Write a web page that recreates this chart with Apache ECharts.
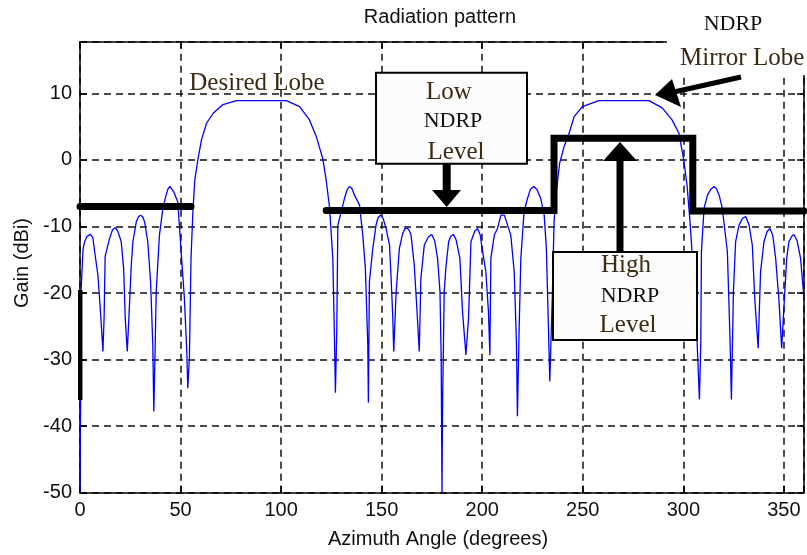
<!DOCTYPE html>
<html>
<head>
<meta charset="utf-8">
<script src="https://cdn.jsdelivr.net/npm/echarts@6/dist/echarts.min.js"></script>
<style>
  html, body { margin: 0; padding: 0; background: #ffffff; }
  #chart { width: 807px; height: 555px; }
</style>
</head>
<body>
<div id="chart"></div>
<script>
// Array radiation pattern: gain versus azimuth angle (one lobe per row)
const azimuthDeg = [
  0, 0.3, 0.5, 1.5, 2.3, 3.5, 5.3, 6.4, 7.3, 8.9, 10.3, 11.4,
  12.0, 12.5, 14.7, 16.2, 17.5, 18.8, 20.5, 21.7, 22.5, 23.5,
  24.3, 25.5, 26.3, 28.0, 29.0, 30.1, 31.2, 32.1, 33.7, 35.1, 36.2, 36.7,
  37.4, 37.9, 39.5, 41.2, 42.8, 43.7, 44.7, 46.6, 48.6, 50.3, 51.9, 53.1, 53.6,
  54.4, 55.2, 56.2, 57.1, 58.7, 60.4, 62.9, 66.2, 71.1, 77.8, 90, 102.6, 109.2, 114.1, 117.5, 120.7, 122.4, 124.1, 125.7, 126.5, 127.0,
  127.7, 128.2, 129.9, 131.5, 132.8, 134.0, 135.2, 136.5, 139.0, 140.6, 141.9, 143.1, 143.4,
  143.9, 145.6, 147.2, 148.2, 149.4, 150.7, 152.2, 153.9, 154.7, 155.5, 156.0,
  157.2, 158.8, 160.5, 161.5, 162.6, 163.7, 164.6, 166.2, 167.4, 168.7,
  169.5, 171.2, 173.2, 174.9, 176.4, 177.8, 179.0, 179.6, 180.0,
  180.3, 181.1, 181.9, 183.3, 184.3, 185.6, 187.0, 188.9, 190.2, 191.9,
  193.2, 194.4, 196.3, 197.7, 199.0, 200.2, 201.8, 203.1, 203.8,
  204.3, 206.0, 207.6, 209.3, 211.0, 214.2, 215.9, 217.0, 217.5,
  218.4, 219.2, 220.8, 222.5, 224.0, 225.6, 227.3, 229.1, 230.8, 231.9, 232.9, 233.6,
  234.9, 235.7, 236.6, 238.5, 240.7, 243.2, 245.7, 249.8, 258.0, 270, 282.9, 289.5, 294.4, 297.8, 300.2, 301.9, 303.5, 305.2, 306.8, 308.0,
  308.7, 309.0, 310.3, 312.0, 313.7, 315.3, 316.6, 317.8, 319.4, 321.9, 323.2, 323.9,
  324.9, 326.0, 327.7, 329.4, 331.0, 332.7, 334.3, 335.5, 337.2,
  338.4, 340.1, 341.6, 343.1, 344.5, 345.9, 347.6, 348.9,
  350.0, 351.4, 352.5, 353.8, 355.0, 356.6, 358.3, 360.0
];
const gainDbi = [
  -50, -36, -19.8, -13.5, -12.3, -11.5, -11.2, -11.7, -13.8, -17.3, -23.3, -28.8,
  -23.5, -14.5, -11.8, -10.5, -10.2, -10.7, -12.3, -16.3, -23.8, -28.8,
  -23.8, -15.8, -12.3, -9.3, -8.6, -8.3, -8.6, -9.3, -12.3, -18.3, -27.8, -37.8,
  -27.8, -19.8, -11.3, -7.3, -5.3, -4.4, -4.0, -4.8, -6.3, -13.8, -20.8, -28.8, -34.3,
  -29.8, -14.8, -7.3, -3.0, 0.2, 3.0, 5.5, 7.0, 8.3, 8.9, 8.9, 8.9, 8.0, 6.0, 3.5, 0.2, -3.0, -7.2, -14.8, -26.3, -35.0,
  -25.3, -9.8, -7.8, -5.8, -4.5, -4.0, -4.3, -5.3, -6.8, -11.3, -16.3, -27.8, -36.5,
  -18.3, -13.3, -9.8, -8.7, -8.3, -8.8, -10.3, -12.8, -17.8, -23.5, -28.8,
  -19.8, -13.3, -11.0, -10.4, -10.2, -10.6, -11.3, -15.8, -21.8, -28.8,
  -17.8, -12.8, -11.6, -11.2, -12.2, -14.8, -19.8, -30, -50,
  -36.3, -19.8, -16.3, -12.3, -11.5, -11.2, -12.0, -14.8, -22.8, -29.3,
  -23.8, -12.3, -10.7, -10.3, -11.3, -13.8, -16.8, -22.8, -29.3,
  -14.8, -11.3, -10.3, -8.3, -8.3, -11.3, -16.8, -27.3, -38.5,
  -24.8, -14.8, -7.8, -5.8, -4.4, -4.0, -4.5, -5.8, -8.3, -13.3, -24.8, -33.3,
  -20.0, -9.5, -5.5, -0.5, 2.0, 4.0, 6.5, 8.0, 8.9, 8.9, 8.9, 7.8, 6.0, 4.0, 0.0, -4.0, -10.0, -18.0, -27.0, -36.0,
  -27.3, -13.8, -7.3, -5.3, -4.4, -4.0, -4.4, -5.3, -7.3, -13.8, -26.8, -36.0,
  -19.8, -12.3, -9.8, -8.8, -8.5, -9.8, -12.8, -20.8, -28.3,
  -16.8, -12.3, -10.8, -10.3, -11.4, -14.8, -21.3, -28.3,
  -22.3, -14.8, -12.3, -11.5, -11.2, -12.2, -14.8, -20.8
];

// NDRP level profile (two separate pieces)
const ndrpLeftAngle = [0, 55.2];
const ndrpLeftLevel = [-7.0, -7.0];
const ndrpRightAngle = [122.4, 235.7, 235.7, 304.7, 304.7, 360];
const ndrpRightLevel = [-7.6, -7.6, 3.25, 3.25, -7.7, -7.7];

// Axis ticks
const xTickValues = [0, 50, 100, 150, 200, 250, 300, 350];
const yTickValues = [-50, -40, -30, -20, -10, 0, 10];

const pairs = (xs, ys) => xs.map((x, i) => [x, ys[i]]);

const SANS = "'Liberation Sans', Arial, sans-serif";
const SERIF = "'Liberation Serif', 'Times New Roman', serif";
const LABEL_BROWN = '#3d2a12';

const gridLine = { show: true, lineStyle: { color: '#111', width: 1.5, type: [7, 5] } };
const spine = { show: true, onZero: false, lineStyle: { color: '#000', width: 1.5 } };
const ticks = { show: true, inside: true, length: 7, lineStyle: { color: '#000', width: 1.5 } };

const chart = echarts.init(document.getElementById('chart'), null, { renderer: 'canvas' });

chart.setOption({
  animation: false,
  backgroundColor: '#ffffff',
  grid: { left: 80, right: 1.6, top: 41.7, bottom: 62.3, containLabel: false },
  xAxis: [
    {
      type: 'value', min: 0, max: 360, interval: 50, position: 'bottom',
      axisLine: spine, axisTick: ticks, splitLine: gridLine,
      axisLabel: {
        margin: 8, color: '#111', fontFamily: SANS, fontSize: 20,
        formatter: v => (xTickValues.includes(v) ? String(v) : '')
      }
    },
    {
      type: 'value', min: 0, max: 360, interval: 50, position: 'top',
      axisLine: spine, axisTick: ticks, splitLine: { show: false },
      axisLabel: { show: false }
    }
  ],
  yAxis: [
    {
      type: 'value', min: -50, max: 17.75, interval: 10, position: 'left',
      axisLine: spine, axisTick: ticks, splitLine: gridLine,
      axisLabel: {
        margin: 8, color: '#111', fontFamily: SANS, fontSize: 20,
        formatter: v => (yTickValues.includes(v) ? String(v) : '')
      }
    },
    {
      type: 'value', min: -50, max: 17.75, interval: 10, position: 'right',
      axisLine: spine, axisTick: ticks, splitLine: { show: false },
      axisLabel: { show: false }
    }
  ],
  series: [
    {
      name: 'Gain', type: 'line', data: pairs(azimuthDeg, gainDbi),
      symbol: 'none', z: 3,
      lineStyle: { color: '#0000ff', width: 1.3 }
    },
    {
      name: 'NDRP left', type: 'line', data: pairs(ndrpLeftAngle, ndrpLeftLevel),
      symbol: 'none', clip: false, z: 4,
      lineStyle: { color: '#000', width: 7, cap: 'round', join: 'miter' }
    },
    {
      name: 'NDRP right', type: 'line', data: pairs(ndrpRightAngle, ndrpRightLevel),
      symbol: 'none', clip: false, z: 4,
      lineStyle: { color: '#000', width: 7, cap: 'round', join: 'miter' }
    }
  ],
  graphic: {
    elements: [
      // blank corner above the right end of the frame
      { type: 'rect', z: 100, shape: { x: 667, y: 0, width: 140, height: 75 }, style: { fill: '#ffffff' } },
      // heavy mark on the left spine
      { type: 'rect', z: 100, shape: { x: 78, y: 290, width: 4.5, height: 110 }, style: { fill: '#000' } },

      // titles
      { type: 'text', z: 110, x: 440, y: 17,
        style: { text: 'Radiation pattern', font: '20px ' + SANS, fill: '#111', align: 'center', verticalAlign: 'middle' } },
      { type: 'text', z: 110, x: 438, y: 539,
        style: { text: 'Azimuth Angle (degrees)', font: '20px ' + SANS, fill: '#111', align: 'center', verticalAlign: 'middle' } },
      { type: 'text', z: 110, x: 22, y: 263, rotation: Math.PI / 2,
        style: { text: 'Gain (dBi)', font: '20px ' + SANS, fill: '#111', align: 'center', verticalAlign: 'middle' } },

      // main lobe label
      { type: 'text', z: 110, x: 257, y: 83,
        style: { text: 'Desired Lobe', font: '25px ' + SERIF, fill: LABEL_BROWN, align: 'center', verticalAlign: 'middle' } },

      // low level callout
      { type: 'rect', z: 105, shape: { x: 376, y: 72.7, width: 151, height: 91 },
        style: { fill: '#fcfcfc', stroke: '#000', lineWidth: 2 } },
      { type: 'text', z: 110, x: 449, y: 92,
        style: { text: 'Low', font: '25px ' + SERIF, fill: LABEL_BROWN, align: 'center', verticalAlign: 'middle' } },
      { type: 'text', z: 110, x: 453, y: 121,
        style: { text: 'NDRP', font: '22px ' + SERIF, fill: '#111', align: 'center', verticalAlign: 'middle' } },
      { type: 'text', z: 110, x: 456, y: 152,
        style: { text: 'Level', font: '25px ' + SERIF, fill: LABEL_BROWN, align: 'center', verticalAlign: 'middle' } },
      { type: 'rect', z: 106, shape: { x: 442.7, y: 163, width: 8, height: 29 }, style: { fill: '#000' } },
      { type: 'polygon', z: 106, shape: { points: [[432, 190], [461, 190], [446.7, 207]] }, style: { fill: '#000' } },

      // high level callout
      { type: 'rect', z: 105, shape: { x: 553, y: 252, width: 144, height: 88 },
        style: { fill: '#fcfcfc', stroke: '#000', lineWidth: 2 } },
      { type: 'text', z: 110, x: 626, y: 265,
        style: { text: 'High', font: '25px ' + SERIF, fill: LABEL_BROWN, align: 'center', verticalAlign: 'middle' } },
      { type: 'text', z: 110, x: 630, y: 296,
        style: { text: 'NDRP', font: '22px ' + SERIF, fill: '#111', align: 'center', verticalAlign: 'middle' } },
      { type: 'text', z: 110, x: 628, y: 325,
        style: { text: 'Level', font: '25px ' + SERIF, fill: LABEL_BROWN, align: 'center', verticalAlign: 'middle' } },
      { type: 'rect', z: 106, shape: { x: 616.5, y: 160, width: 7, height: 92 }, style: { fill: '#000' } },
      { type: 'polygon', z: 106, shape: { points: [[603, 161], [637, 161], [620, 142]] }, style: { fill: '#000' } },

      // mirror lobe callout
      { type: 'text', z: 110, x: 733, y: 24,
        style: { text: 'NDRP', font: '22px ' + SERIF, fill: '#111', align: 'center', verticalAlign: 'middle' } },
      { type: 'text', z: 110, x: 680, y: 58,
        style: { text: 'Mirror Lobe', font: '25px ' + SERIF, fill: LABEL_BROWN, align: 'left', verticalAlign: 'middle' } },
      { type: 'line', z: 106, shape: { x1: 741, y1: 77, x2: 674, y2: 92 }, style: { stroke: '#000', lineWidth: 5 } },
      { type: 'polygon', z: 106, shape: { points: [[655, 95], [672, 79], [681, 107]] }, style: { fill: '#000' } }
    ]
  }
});
</script>
</body>
</html>
